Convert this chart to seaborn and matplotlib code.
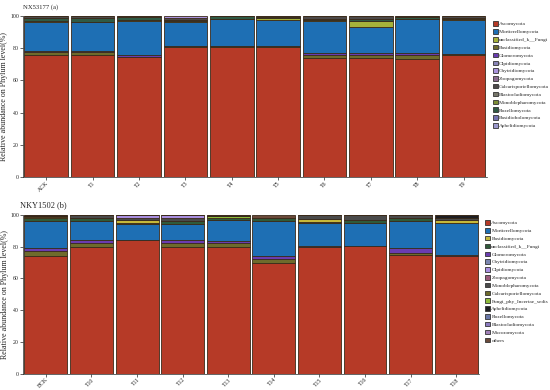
# stacked phylum-level abundance, two panels

import numpy as np
import matplotlib
matplotlib.use("Agg")
import matplotlib.pyplot as plt
import matplotlib.patches as mpatches
import seaborn as sns
import pandas as pd

# ---- panel a ----
samples_a = ["ACK", "T1", "T2", "T3", "T4", "T5", "T6", "T7", "T8", "T9"]
asco_a = [76, 76, 74.5, 81, 81, 81, 74, 74, 73, 76]
basid_a = [1.5, 1.5, 0.3, 0.3, 0.3, 0.2, 2, 2, 3, 0.3]
glom_a = [0.5, 0.5, 0.7, 0.2, 0.2, 0.3, 1, 1, 1, 0.2]
mort_a = [18, 18, 21.5, 14.5, 16.5, 16, 20, 16, 21, 21]
uncl_a = [1, 0.5, 0.5, 1, 0.2, 1, 0.3, 4, 0.3, 0.5]
roz_a = [1.5, 2, 2, 0.5, 1.5, 1, 1, 1, 1, 1]
calc_a = [1.5, 1.5, 0.5, 1, 0.3, 0.5, 1.7, 2, 0.7, 1]
chyt_a = [0, 0, 0, 1.5, 0, 0, 0, 0, 0, 0]

legend_a = ["Ascomycota", "Mortierellomycota", "unclassified_k__Fungi", "Basidiomycota",
            "Glomeromycota", "Olpidiomycota", "Chytridiomycota", "Zoopagomycota",
            "Calcarisporiellomycota", "Blastocladiomycota", "Monoblepharomycota",
            "Rozellomycota", "Basidiobolomycota", "Aphelidiomycota"]
colors_a = ["#b63a27", "#1e6fb4", "#a6b23a", "#6e6b2c", "#6a3cb0", "#8884b8", "#a993dd",
            "#8a6a8e", "#4d4a4a", "#77766a", "#7d8e35", "#2f5a45", "#7472b0", "#9b98cc"]

# ---- panel b ----
samples_b = ["BCK", "T10", "T11", "T12", "T13", "T14", "T15", "T16", "T17", "T18"]
asco_b = [74, 80, 84, 80, 80, 70, 80, 80.5, 75, 74]
calc_b = [3, 2, 0, 2, 2.5, 2, 0, 0, 1, 0]
glom_b = [2, 2, 0.3, 2, 1, 2, 0.3, 0.2, 3, 0.5]
mort_b = [17, 12, 9.7, 10, 13.5, 22, 14.7, 14.3, 17, 20.5]
uncl_b = [2, 2, 1, 2, 1, 2, 0.5, 2, 2, 0]
fphy_b = [0.5, 0, 0, 0, 1, 0, 0, 0, 0, 0]
basid_b = [0.5, 0, 2, 0, 0, 0, 2, 0, 0, 2]
monob_b = [0.5, 2, 1, 2, 0, 0, 2.5, 3, 2, 1]
olpid_b = [0, 0, 2, 2, 0, 0, 0, 0, 0, 0]
aphel_b = [0.5, 0, 0, 0, 1, 0, 0, 0, 0, 2]
others_b = [0, 0, 0, 0, 0, 2, 0, 0, 0, 0]

legend_b = ["Ascomycota", "Mortierellomycota", "Basidiomycota", "unclassified_k__Fungi",
            "Glomeromycota", "Chytridiomycota", "Olpidiomycota", "Zoopagomycota",
            "Monoblepharomycota", "Calcarisporiellomycota", "Fungi_phy_Incertae_sedis",
            "Aphelidiomycota", "Rozellomycota", "Blastocladiomycota", "Mucoromycota", "others"]
colors_b = ["#b63a27", "#1e6fb4", "#c5b83a", "#2f5a3a", "#6a3cb0", "#7a86b0", "#a88ee0",
            "#9a5a7a", "#4a4a4a", "#6e6b2c", "#8dbb3a", "#1e1e22", "#6a78a8", "#8a7ac0",
            "#a080b8", "#6a4a3a"]


def make_long(samples, layers):
    rows = []
    for name, vals in layers:
        for s, v in zip(samples, vals):
            rows.append({"sample": s, "phylum": name, "value": v})
    return pd.DataFrame(rows)


layers_a = [("Ascomycota", asco_a), ("Basidiomycota", basid_a), ("Glomeromycota", glom_a),
            ("Mortierellomycota", mort_a), ("unclassified_k__Fungi", uncl_a),
            ("Rozellomycota", roz_a), ("Calcarisporiellomycota", calc_a),
            ("Chytridiomycota", chyt_a)]
layers_b = [("Ascomycota", asco_b), ("Calcarisporiellomycota", calc_b),
            ("Glomeromycota", glom_b), ("Mortierellomycota", mort_b),
            ("unclassified_k__Fungi", uncl_b), ("Fungi_phy_Incertae_sedis", fphy_b),
            ("Basidiomycota", basid_b), ("Monoblepharomycota", monob_b),
            ("Olpidiomycota", olpid_b), ("Aphelidiomycota", aphel_b), ("others", others_b)]

sns.set_style("ticks")
plt.rcParams["font.family"] = ["Liberation Serif", "DejaVu Serif"]

fig = plt.figure(figsize=(5.5, 3.9), dpi=100)
ax_a = fig.add_axes([0.042, 0.546, 0.843, 0.413])
ax_b = fig.add_axes([0.042, 0.042, 0.829, 0.407])


def draw_panel(ax, samples, layers, legend_names, colors):
    df = make_long(samples, layers)
    pal = dict(zip(legend_names, colors))
    order = [n for n, _ in layers]
    # seaborn puts the first hue level on top, so feed the stack top-down
    sns.histplot(data=df, x="sample", weights="value", hue="phylum",
                 hue_order=order[::-1], palette=pal, multiple="stack",
                 discrete=True, shrink=0.94, alpha=1, legend=False,
                 edgecolor="#3a2a1a", linewidth=0.6, ax=ax)
    ax.set_xlim(-0.5, len(samples) - 0.5)
    ax.set_ylim(0, 100)
    ax.set_yticks([0, 20, 40, 60, 80, 100])
    ax.tick_params(axis="y", labelsize=4.2, length=2, width=0.5, pad=1)
    ax.tick_params(axis="x", labelsize=4.2, length=2, width=0.5, pad=0.5)
    ax.set_xticks(range(len(samples)))
    ax.set_xticklabels(samples, rotation=45, ha="right", rotation_mode="anchor")
    ax.set_xlabel("")
    ax.set_ylabel("Relative abundance on Phylum level(%)", fontsize=5.8)
    ax.yaxis.set_label_coords(-0.032, 0.5)
    sns.despine(ax=ax, top=True, right=True)
    for sp in ["left", "bottom"]:
        ax.spines[sp].set_linewidth(0.5)
    handles = [mpatches.Patch(facecolor=c, edgecolor="#333333", linewidth=0.6, label=n)
               for n, c in zip(legend_names, colors)]
    ax.legend(handles=handles, loc="upper left", bbox_to_anchor=(1.008, 0.98),
              frameon=False, fontsize=3.9, handlelength=0.9, handleheight=0.9,
              handletextpad=0.3, labelspacing=0.5, borderaxespad=0)


draw_panel(ax_a, samples_a, layers_a, legend_a, colors_a)
draw_panel(ax_b, samples_b, layers_b, legend_b, colors_b)

fig.text(0.042, 0.982, "NX53177 (a)", fontsize=4.8, va="center")
fig.text(0.036, 0.473, "NKY1502 (b)", fontsize=6, va="center")

fig.savefig("out.png", dpi=100)
